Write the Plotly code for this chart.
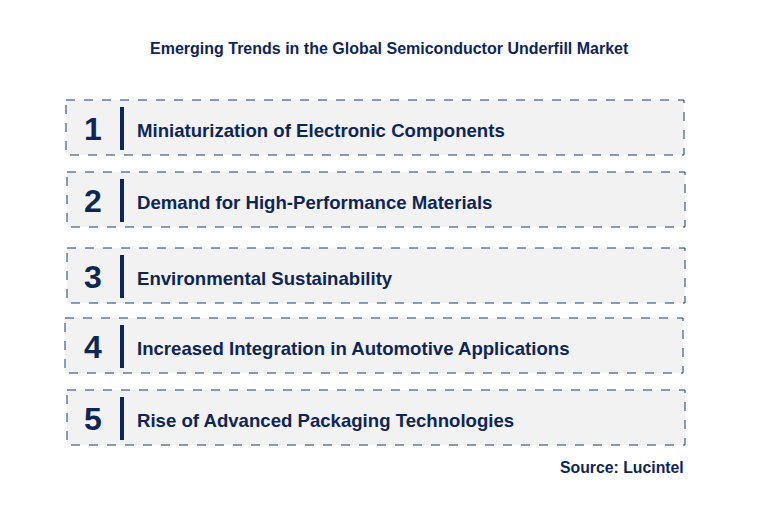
import plotly.graph_objects as go

numbers = ["1", "2", "3", "4", "5"]
labels = [
    "Miniaturization of Electronic Components",
    "Demand for High-Performance Materials",
    "Environmental Sustainability",
    "Increased Integration in Automotive Applications",
    "Rise of Advanced Packaging Technologies",
]
box_tops = [100, 172, 248, 318, 390]
box_lefts = [66, 67, 67, 65, 67]
title = "Emerging Trends in the Global Semiconductor Underfill Market"
source = "Source: Lucintel"

navy = "#0d2657"
off = 8  # page body margin compensation
fig = go.Figure()
shapes, annos = [], []
for n, lab, top, left in zip(numbers, labels, box_tops, box_lefts):
    top -= off
    left -= off
    shapes.append(dict(type="rect", x0=left, x1=left + 618, y0=top, y1=top + 55,
                       fillcolor="#f2f2f2", line=dict(color="#1f3a6b", width=1, dash="dash"),
                       layer="below"))
    shapes.append(dict(type="line", x0=122 - off, x1=122 - off, y0=top + 7, y1=top + 50,
                       line=dict(color=navy, width=4)))
    annos.append(dict(x=93 - off, y=top + 29, text=f"<b>{n}</b>", showarrow=False,
                      font=dict(size=32, color=navy, family="Arial"), xanchor="center", yanchor="middle"))
    annos.append(dict(x=135 - off, y=top + 30, text=f"<b>{lab}</b>", showarrow=False,
                      font=dict(size=18.6, color=navy, family="Arial"), xanchor="left", yanchor="middle"))
annos.append(dict(x=389 - off, y=48 - off, text=f"<b>{title}</b>", showarrow=False,
                  font=dict(size=16, color=navy, family="Arial"), xanchor="center", yanchor="middle"))
annos.append(dict(x=686 - off, y=467 - off, text=f"<b>{source}</b>", showarrow=False,
                  font=dict(size=15.8, color=navy, family="Arial"), xanchor="right", yanchor="middle"))

fig.update_layout(width=776, height=521, margin=dict(l=0, r=0, t=0, b=0),
                  plot_bgcolor="white", paper_bgcolor="white", shapes=shapes, annotations=annos,
                  xaxis=dict(range=[0, 776], visible=False, fixedrange=True),
                  yaxis=dict(range=[521, 0], visible=False, fixedrange=True),
                  showlegend=False)
fig.write_html("out.html")
